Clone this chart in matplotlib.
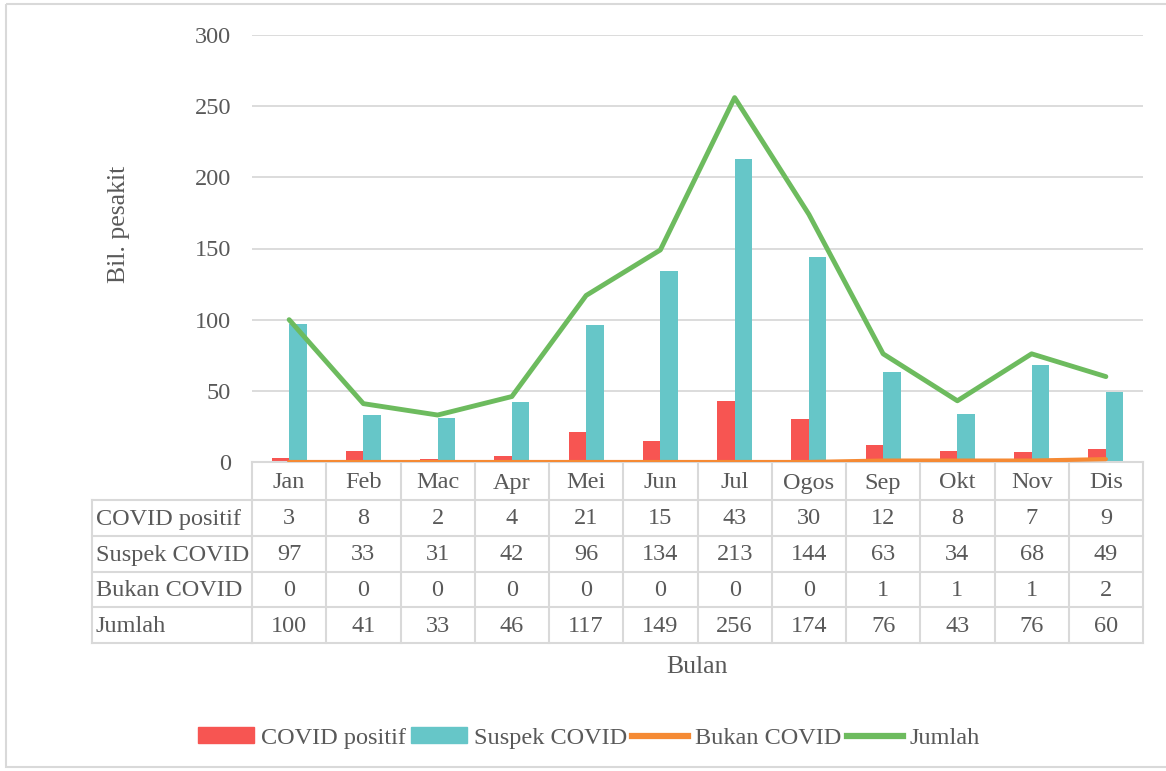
import matplotlib
matplotlib.use("Agg")
import matplotlib.pyplot as plt
import matplotlib.transforms as mtransforms
from matplotlib.patches import Patch, Rectangle
from matplotlib.lines import Line2D
import numpy as np

# ---------------- data ----------------
months = ["Jan", "Feb", "Mac", "Apr", "Mei", "Jun", "Jul", "Ogos", "Sep", "Okt", "Nov", "Dis"]
covid_positif = [3, 8, 2, 4, 21, 15, 43, 30, 12, 8, 7, 9]
suspek_covid = [97, 33, 31, 42, 96, 134, 213, 144, 63, 34, 68, 49]
bukan_covid = [0, 0, 0, 0, 0, 0, 0, 0, 1, 1, 1, 2]
jumlah = [100, 41, 33, 46, 117, 149, 256, 174, 76, 43, 76, 60]
series_names = ["COVID positif", "Suspek COVID", "Bukan COVID", "Jumlah"]
yticks = [0, 50, 100, 150, 200, 250, 300]

# ---------------- style ----------------
plt.rcParams['font.family'] = ['Liberation Serif', 'DejaVu Serif']
FS = 17.5
FS_T = 18.5
TXT = "#595959"
GRID = "#D9D9D9"
C_RED = "#F75552"
C_TEAL = "#66C6C8"
C_ORANGE = "#F58A34"
C_GREEN = "#6DBB5E"

W, H = 1166, 771
fig = plt.figure(figsize=(W / 100, H / 100), dpi=100)

# plot area in pixels
L, R, T, B = 252, 1143, 35, 462
ax = fig.add_axes([L / W, 1 - B / H, (R - L) / W, (B - T) / H])

# overlay axes in pixel coordinates
ov = fig.add_axes([0, 0, 1, 1], zorder=-1)
ov.set_xlim(0, W)
ov.set_ylim(H, 0)
ov.axis("off")

n = len(months)
x = np.arange(n) + 0.5
bw = 0.235

ax.bar(x - bw / 2, covid_positif, width=bw, color=C_RED, zorder=2)
ax.bar(x + bw / 2, suspek_covid, width=bw, color=C_TEAL, zorder=2)
ax.plot(x, bukan_covid, color=C_ORANGE, lw=3.0, solid_capstyle="round", zorder=3)
ax.plot(x, jumlah, color=C_GREEN, lw=3.5, solid_capstyle="round", solid_joinstyle="round", zorder=4)

ax.set_xlim(0, n)
ax.set_ylim(0, 300)
ax.set_yticks(yticks)
ax.set_yticklabels([str(v) for v in yticks], fontsize=FS, color=TXT)
ax.tick_params(axis="y", length=0, pad=15)
ax.set_xticks([])
for s in ["top", "right", "left"]:
    ax.spines[s].set_visible(False)
ax.spines["bottom"].set_color(GRID)
ax.spines["bottom"].set_linewidth(1.5)
ax.grid(axis="y", color=GRID, lw=1.3, zorder=0)
ax.set_axisbelow(True)
ax.patch.set_alpha(0)

# ---------------- data table ----------------
tr = mtransforms.blended_transform_factory(ax.transData, ov.transData)
row_edges = [462, 500, 536, 572, 607, 643]
label_left = 92
lw_t = 1.5

# vertical column lines
for i in range(n + 1):
    ax.plot([i, i], [row_edges[0], row_edges[-1]], transform=tr, color=GRID, lw=lw_t,
            clip_on=False, zorder=1)
# left border of row-label column
ov.plot([label_left, label_left], [row_edges[1], row_edges[-1]], color=GRID, lw=lw_t)
# horizontal lines
for y in row_edges[1:]:
    ov.plot([label_left, L], [y, y], color=GRID, lw=lw_t)
    ax.plot([0, n], [y, y], transform=tr, color=GRID, lw=lw_t, clip_on=False, zorder=1)

# header (months)
hy = (row_edges[0] + row_edges[1]) / 2 + 2
for i, m in enumerate(months):
    ax.text(x[i], hy, m, transform=tr, ha="center", va="center", fontsize=FS, color=TXT)

rows = [covid_positif, suspek_covid, bukan_covid, jumlah]
for r, (name, vals) in enumerate(zip(series_names, rows)):
    cy = (row_edges[r + 1] + row_edges[r + 2]) / 2 + 1
    ov.text(label_left + 4, cy, name, ha="left", va="center", fontsize=FS, color=TXT)
    for i, v in enumerate(vals):
        ax.text(x[i], cy, str(v), transform=tr, ha="center", va="center", fontsize=FS, color=TXT)

# axis titles
ov.text(119, 224, "Bil. pesakit", rotation=90, ha="center", va="center", fontsize=FS_T, color=TXT)
ov.text(697, 667, "Bulan", ha="center", va="center", fontsize=FS_T, color=TXT)

# outer border
ov.add_patch(Rectangle((6, 4), W + 10, 763, fill=False, edgecolor=GRID, lw=1.5))

# legend
handles = [
    Patch(facecolor=C_RED, edgecolor=C_RED),
    Patch(facecolor=C_TEAL, edgecolor=C_TEAL),
    Line2D([0], [0], color=C_ORANGE, lw=4.5),
    Line2D([0], [0], color=C_GREEN, lw=4.5),
]
leg = fig.legend(handles, series_names, loc="center", bbox_to_anchor=(589 / W, 1 - 738 / H),
                 ncol=4, frameon=False, fontsize=FS, handlelength=2.3, handleheight=0.6,
                 handletextpad=0.3, columnspacing=0.2)
for t in leg.get_texts():
    t.set_color(TXT)

fig.savefig("out.png", dpi=100)
